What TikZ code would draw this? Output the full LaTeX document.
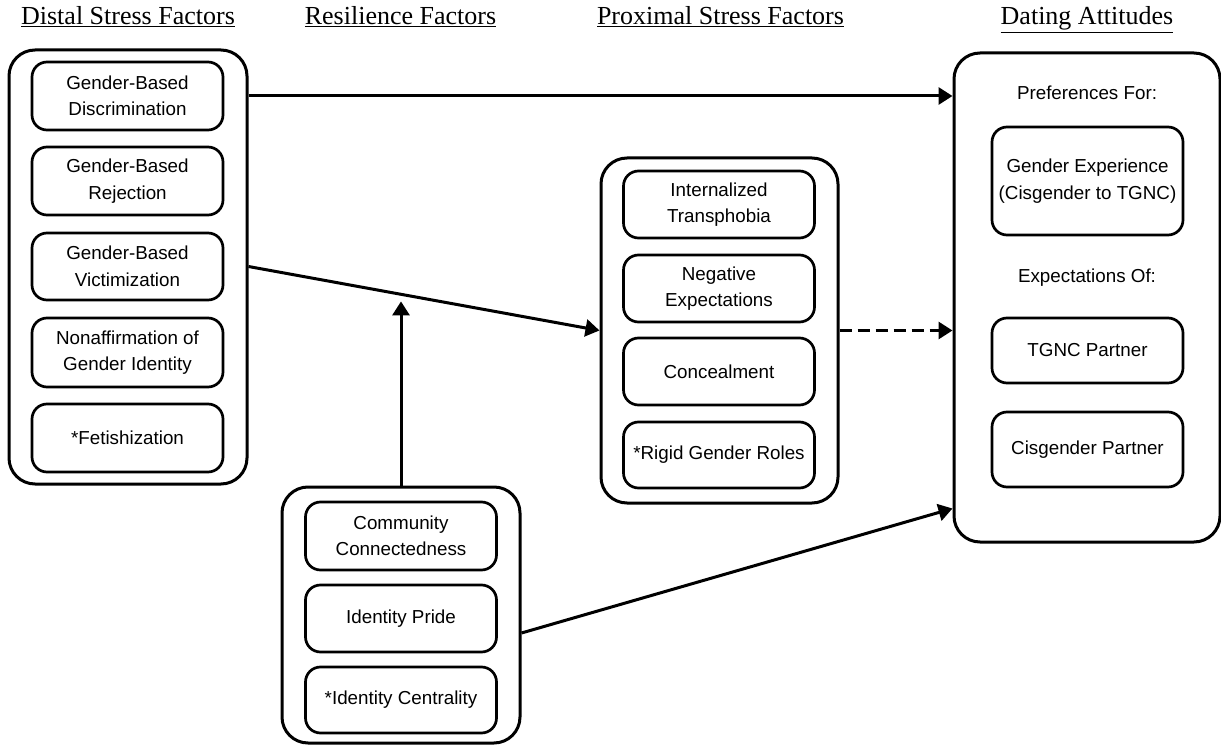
\documentclass[tikz,border=0pt]{standalone}
\usepackage{fontspec}
\setmainfont{Liberation Serif}
\setsansfont{Liberation Sans}
\usetikzlibrary{arrows.meta,calc}
\tikzset{
	group/.style={draw, line width=3pt, rounded corners=26pt, inner sep=0pt},
	factor/.style={draw, line width=2.7pt, rounded corners=15pt, minimum width=191pt,
			inner sep=0pt, align=center, font=\sffamily\fontsize{18.8}{26.5}\selectfont},
	header/.style={anchor=base, font=\fontsize{26}{30}\selectfont},
	subhead/.style={font=\sffamily\fontsize{18.8}{26.5}\selectfont},
	link/.style={line width=3pt, -{Triangle[length=14pt,width=17pt]}}
}
\begin{document}
\begin{tikzpicture}[x=1pt,y=-1pt]
	\useasboundingbox (0,0) rectangle (1221,746);
	% column headings
	\node[header] (hdist) at (128,25) {\underline{Distal Stress Factors}};
	\node[header] (hres) at (400.5,25) {\underline{Resilience Factors}};
	\node[header] (hprox) at (720.5,25) {\underline{Proximal Stress Factors}};
	\node[header] (hdate) at (1087,25) {\underline{Dating Attitudes}};

	% distal stress factors
	\node[group, minimum width=238pt, minimum height=434pt] (distal) at (128,267) {};
	\node[factor, minimum height=68pt] (d1) at (127.5,96) {Gender-Based\\Discrimination};
	\node[factor, minimum height=68pt] (d2) at (127.5,181) {Gender-Based\\Rejection};
	\node[factor, minimum height=67pt] (d3) at (127.5,266.5) {Gender-Based\\Victimization};
	\node[factor, minimum height=69pt] (d4) at (127.5,352.5) {Nonaffirmation of\\Gender Identity};
	\node[factor, minimum height=68pt] (d5) at (127.5,438) {*Fetishization};

	% resilience factors
	\node[group, minimum width=238pt, minimum height=256pt] (resil) at (401,615) {};
	\node[factor, minimum height=68pt] (r1) at (401,536) {Community\\Connectedness};
	\node[factor, minimum height=67pt] (r2) at (401,618.5) {Identity Pride};
	\node[factor, minimum height=66pt] (r3) at (401,700) {*Identity Centrality};

	% proximal stress factors
	\node[group, minimum width=237pt, minimum height=345pt] (prox) at (719.5,330.5) {};
	\node[factor, minimum height=67pt] (p1) at (719,204.5) {Internalized\\Transphobia};
	\node[factor, minimum height=67pt] (p2) at (719,288.5) {Negative\\Expectations};
	\node[factor, minimum height=67pt] (p3) at (719,371.5) {Concealment};
	\node[factor, minimum height=66pt] (p4) at (719,455) {*Rigid Gender Roles};

	% dating attitudes
	\node[group, minimum width=266pt, minimum height=489pt] (dating) at (1087,297.5) {};
	\node[subhead] (pref) at (1087,93) {Preferences For:};
	\node[factor, minimum height=108pt] (a1) at (1087.5,181) {Gender Experience\\(Cisgender to TGNC)};
	\node[subhead] (expt) at (1087,278) {Expectations Of:};
	\node[factor, minimum height=65pt] (a2) at (1087.5,350.5) {TGNC Partner};
	\node[factor, minimum height=75pt] (a3) at (1087.5,449.5) {Cisgender Partner};

	% paths
	\draw[link] (d1 -| distal.east) -- (d1 -| dating.west);
	\draw[link] (d3 -| distal.east) -- (prox.west);
	\coordinate (mod) at ($(d3 -| distal.east)!0.436!(prox.west)$);
	\draw[link] (resil.north) -- ($(resil.north |- mod)+(0,7)$);
	\draw[link, dash pattern=on 12pt off 6pt] (prox.east) -- (prox.east -| dating.west);
	\draw[link] ($(resil.east)+(0,18)$) -- ($(dating.south west)+(0,-35)$);
\end{tikzpicture}
\end{document}
